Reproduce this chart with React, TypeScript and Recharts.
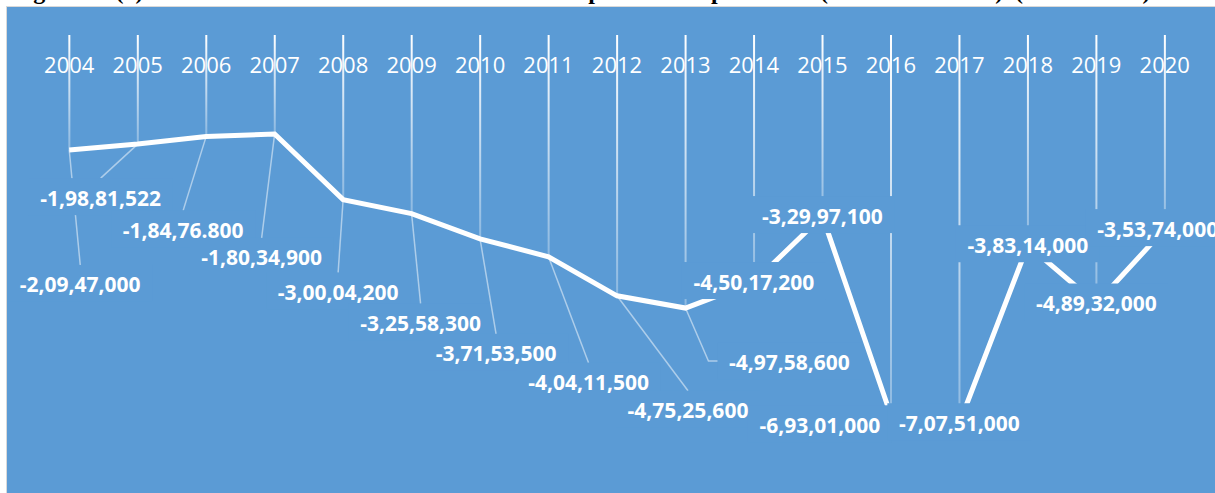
import React from 'react';
import { ComposedChart, Line, Bar, XAxis, YAxis, LabelList } from 'recharts';

const years = ['2004', '2005', '2006', '2007', '2008', '2009', '2010', '2011', '2012', '2013', '2014', '2015', '2016', '2017', '2018', '2019', '2020'];

const balance = [
  -20947000, -19881522, -18476800, -18034900, -30004200, -32558300, -37153500, -40411500, -47525600,
  -49758600, -45017200, -32997100, -69301000, -70751000, -38314000, -48932000, -35374000,
];

const labelTexts = [
  '-2,09,47,000', '-1,98,81,522', '-1,84,76.800', '-1,80,34,900', '-3,00,04,200', '-3,25,58,300',
  '-3,71,53,500', '-4,04,11,500', '-4,75,25,600', '-4,97,58,600', '-4,50,17,200', '-3,29,97,100',
  '-6,93,01,000', '-7,07,51,000', '-3,83,14,000', '-4,89,32,000', '-3,53,74,000',
];

// where each data label was dragged to, relative to its point (Excel style), and leader type
const labelOffsets: [number, number, string][] = [
  [11, 135, 'top'], [-37, 54, 'top'], [-23, 94, 'top'], [-13, 124, 'top'], [-5, 93, 'top'],
  [9, 110, 'top'], [16, 115, 'top'], [40, 126, 'top'], [71, 115, 'top'], [104, 54, 'side'],
  [0, 0, 'none'], [0, 0, 'none'], [-71, 10, 'none'], [0, 0, 'none'], [0, 0, 'none'],
  [0, 0, 'none'], [-7, 0, 'none'],
];

const BG = '#5b9bd5';

const data = years.map((year, i) => ({ year, value: balance[i], label: labelTexts[i] }));

const pos = (props: any) => {
  const px = props.x ?? props.viewBox?.x ?? 0;
  const py = props.y ?? props.viewBox?.y ?? 0;
  const [dx, dy, leader] = labelOffsets[props.index] || [0, 0, 'none'];
  return { px, py, cx: px + dx, cy: py + dy, leader };
};

const LabelBox = (props: any) => {
  const { px, py, cx, cy, leader } = pos(props);
  return (
    <g>
      {leader === 'top' && (
        <line x1={px} y1={py} x2={cx} y2={cy - 20} stroke="#fff" strokeOpacity={0.5} strokeWidth={1.5} />
      )}
      {leader === 'side' && (
        <polyline
          points={`${px},${py} ${cx - 81},${cy - 1} ${cx - 71},${cy - 1}`}
          fill="none"
          stroke="#fff"
          strokeOpacity={0.5}
          strokeWidth={1.5}
        />
      )}
      <rect x={cx - 72} y={cy - 20} width={144} height={37} fill={BG} />
    </g>
  );
};

const LabelText = (props: any) => {
  const { cx, cy } = pos(props);
  return (
    <text x={cx} y={cy + 7.5} textAnchor="middle" fill="#fff" fontSize={21} fontWeight="bold" fontFamily="Open Sans">
      {props.value}
    </text>
  );
};

const YearTick = (props: any) => {
  const { x, y, payload } = props;
  return (
    <text x={x} y={y + 46} textAnchor="middle" fill="#fff" fontSize={22} fontFamily="Open Sans">
      {payload.value}
    </text>
  );
};

const DropLine = (props: any) => {
  const { x, y, width, height } = props;
  const top = Math.min(y, y + height);
  return <rect x={x + width / 2 - 1} y={top} width={2} height={Math.abs(height)} fill="url(#dropFade)" />;
};

export default function App() {
  return (
    <div style={{ position: 'absolute', left: 0, top: 0, width: 1215, height: 493, background: '#fff', overflow: 'hidden' }}>
      <svg width={1215} height={7} style={{ position: 'absolute', left: 0, top: 0, overflow: 'hidden' }}>
        <text y={-1} fontFamily="Liberation Serif" fontWeight="bold" fontSize={24} fill="#000">
          <tspan x={12}>Figure 10 (a)</tspan>
          <tspan x={310}>Trade Balance of India: Import and Export Data</tspan>
          <tspan x={820}>(Years 2004-2020)</tspan>
          <tspan x={1015}>(in Rs. Lakh)</tspan>
        </text>
      </svg>
      <div
        style={{
          position: 'absolute',
          left: 6,
          top: 6,
          width: 1215,
          height: 493,
          background: BG,
          borderTop: '1px solid #d9d9d9',
          borderLeft: '1px solid #d9d9d9',
        }}
      />
      <div style={{ position: 'absolute', left: 0, top: 0 }}>
        <ComposedChart width={1215} height={493} data={data} margin={{ top: 5, right: 16, left: 35, bottom: 19 }}>
          <defs>
            <linearGradient id="dropFade" x1="0" y1="0" x2="0" y2="1">
              <stop offset="0%" stopColor="#fff" stopOpacity={1} />
              <stop offset="100%" stopColor="#fff" stopOpacity={0.3} />
            </linearGradient>
          </defs>
          <XAxis dataKey="year" orientation="top" height={30} axisLine={false} tickLine={false} interval={0} tick={YearTick} />
          <YAxis hide type="number" domain={[-80000000, 0]} />
          <Bar dataKey="value" shape={DropLine} isAnimationActive={false} />
          <Line type="linear" dataKey="value" stroke="#fff" strokeWidth={5} dot={false} isAnimationActive={false}>
            <LabelList dataKey="label" content={LabelBox} />
            <LabelList dataKey="label" content={LabelText} />
          </Line>
        </ComposedChart>
      </div>
    </div>
  );
}
